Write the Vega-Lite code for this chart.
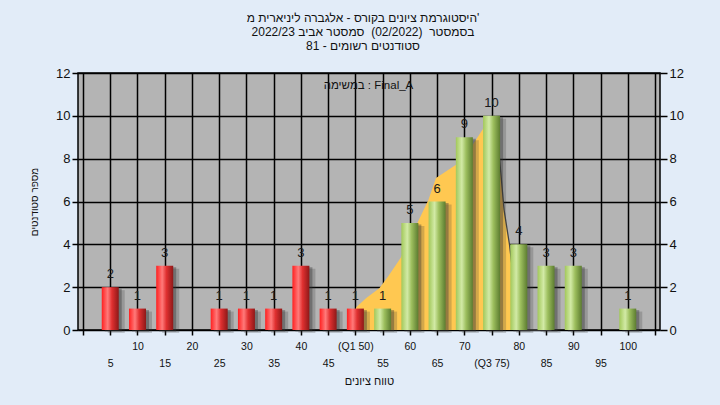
{
  "$schema": "https://vega.github.io/schema/vega-lite/v6.json",
  "width": 582,
  "height": 257,
  "autosize": "none",
  "padding": {"left": 78, "top": 73, "right": 60, "bottom": 75},
  "background": "#e2ecf8",
  "title": {
    "text": ["היסטוגרמת ציונים בקורס - אלגברה ליניארית מ'", "בסמסטר \u00a0(02/2022)\u00a0 סמסטר אביב 2022/23", "סטודנטים רשומים - 81"],
    "fontSize": 12,
    "font": "Liberation Sans",
    "fontWeight": "normal",
    "color": "#111111",
    "lineHeight": 14,
    "offset": 14,
    "anchor": "middle",
    "frame": "group",
    "dx": -6
  },
  "config": {
    "font": "Liberation Sans",
    "view": {"fill": "#b4b4b4", "stroke": "#000000", "strokeWidth": 1.5}
  },
  "datasets": {
    "bars": [
      {"g": 5, "c": 2}, {"g": 10, "c": 1}, {"g": 15, "c": 3}, {"g": 20, "c": 0},
      {"g": 25, "c": 1}, {"g": 30, "c": 1}, {"g": 35, "c": 1}, {"g": 40, "c": 3},
      {"g": 45, "c": 1}, {"g": 50, "c": 1}, {"g": 55, "c": 1}, {"g": 60, "c": 5},
      {"g": 65, "c": 6}, {"g": 70, "c": 9}, {"g": 75, "c": 10}, {"g": 80, "c": 4},
      {"g": 85, "c": 3}, {"g": 90, "c": 3}, {"g": 95, "c": 0}, {"g": 100, "c": 1}
    ],
    "curve": [
      {"g": 48.6, "v": 0}, {"g": 50.2, "v": 1.07}, {"g": 52, "v": 1.5}, {"g": 54.4, "v": 1.95},
      {"g": 56, "v": 2.5}, {"g": 58.3, "v": 3.36}, {"g": 61, "v": 4.8}, {"g": 63.4, "v": 6.07},
      {"g": 64.8, "v": 7.1}, {"g": 68.4, "v": 7.7}, {"g": 71.5, "v": 8.64}, {"g": 73.3, "v": 9.34},
      {"g": 75.5, "v": 10}, {"g": 76.5, "v": 7.9}, {"g": 77.3, "v": 5.6}, {"g": 78.3, "v": 3.97},
      {"g": 80.1, "v": 0}
    ],
    "edge": [
      {"g": 75.5, "v": 10}, {"g": 76.5, "v": 7.9}, {"g": 77.3, "v": 5.6}, {"g": 78.3, "v": 3.97},
      {"g": 80.1, "v": 0}, {"g": 86, "v": 0}
    ],
    "note": [{"g": 52.4, "v": 11.4, "t": "במשימה : Final_A"}]
  },
  "layer": [
    {
      "data": {"name": "curve"},
      "mark": {"type": "area", "color": "#ffc851", "opacity": 1},
      "encoding": {
        "x": {
          "field": "g", "type": "quantitative",
          "scale": {"domain": [0, 105], "nice": false, "zero": false},
          "axis": {
            "orient": "bottom",
            "values": [0, 5, 10, 15, 20, 25, 30, 35, 40, 45, 50, 55, 60, 65, 70, 75, 80, 85, 90, 95, 100, 105],
            "labelExpr": "datum.value % 10 == 0 && datum.value > 0 && datum.value <= 100 ? (datum.value == 50 ? '(Q1 50)' : datum.label) : ''",
            "labelOverlap": false,
            "labelFontSize": 10.5,
            "labelColor": "#111111",
            "labelPadding": 6,
            "tickSize": 5,
            "tickColor": "#000000",
            "tickWidth": 1.5,
            "domain": false,
            "grid": true,
            "gridColor": "#000000",
            "gridWidth": 1.5,
            "gridOpacity": 1,
            "title": null
          }
        },
        "y": {
          "field": "v", "type": "quantitative",
          "scale": {"domain": [0, 12], "nice": false},
          "axis": {
            "orient": "left",
            "values": [0, 2, 4, 6, 8, 10, 12],
            "grid": true,
            "gridColor": "#000000",
            "gridWidth": 1.5,
            "gridOpacity": 1,
            "tickSize": 6,
            "tickColor": "#000000",
            "tickWidth": 1.5,
            "domain": false,
            "labelFontSize": 13,
            "labelPadding": 2,
            "labelColor": "#111111",
            "title": "מספר סטודנטים",
            "titleFontSize": 10,
            "titleFontWeight": "normal",
            "titleColor": "#111111",
            "titlePadding": 16
          }
        }
      }
    },
    {
      "data": {"name": "edge"},
      "mark": {"type": "line", "color": "#444444", "strokeWidth": 1.3},
      "encoding": {
        "x": {"field": "g", "type": "quantitative", "axis": null},
        "y": {"field": "v", "type": "quantitative", "axis": null}
      }
    },
    {
      "data": {"name": "bars"},
      "transform": [{"filter": "datum.c > 0"}],
      "mark": {"type": "bar", "size": 17, "color": "#333333", "opacity": 0.22, "xOffset": 6, "yOffset": 3},
      "encoding": {
        "x": {"field": "g", "type": "quantitative", "axis": null},
        "y": {"field": "c", "type": "quantitative", "axis": null}
      }
    },
    {
      "data": {"name": "bars"},
      "transform": [{"filter": "datum.c > 0"}],
      "mark": {"type": "bar", "size": 17, "color": "#333333", "opacity": 0.38, "xOffset": 3, "yOffset": 1.5},
      "encoding": {
        "x": {"field": "g", "type": "quantitative", "axis": null},
        "y": {"field": "c", "type": "quantitative", "axis": null}
      }
    },
    {
      "data": {"name": "bars"},
      "transform": [{"filter": "datum.c > 0 && datum.g <= 50"}],
      "mark": {
        "type": "bar", "size": 17,
        "color": {
          "gradient": "linear", "x1": 0, "x2": 1, "y1": 0, "y2": 0,
          "stops": [
            {"offset": 0, "color": "#ff2020"},
            {"offset": 0.35, "color": "#ff7a7a"},
            {"offset": 0.6, "color": "#e03030"},
            {"offset": 1, "color": "#8e1818"}
          ]
        }
      },
      "encoding": {
        "x": {
          "field": "g", "type": "quantitative",
          "axis": {
            "orient": "bottom",
            "values": [5, 15, 25, 35, 45, 55, 65, 75, 85, 95],
            "labelExpr": "datum.value == 75 ? '(Q3 75)' : datum.label",
            "labelOverlap": false,
            "ticks": false,
            "domain": false,
            "grid": false,
            "labelFontSize": 10.5,
            "labelColor": "#111111",
            "labelPadding": 28,
            "title": "טווח ציונים",
            "titleFontSize": 11,
            "titleFontWeight": "normal",
            "titleColor": "#111111",
            "titlePadding": 7
          }
        },
        "y": {
          "field": "c", "type": "quantitative",
          "axis": {
            "orient": "right",
            "values": [0, 2, 4, 6, 8, 10, 12],
            "grid": false,
            "tickSize": 7,
            "tickColor": "#000000",
            "tickWidth": 1.5,
            "domain": false,
            "labelFontSize": 13,
            "labelPadding": 2,
            "labelColor": "#111111",
            "title": null
          }
        }
      }
    },
    {
      "data": {"name": "bars"},
      "transform": [{"filter": "datum.c > 0 && datum.g >= 55"}],
      "mark": {
        "type": "bar", "size": 17,
        "color": {
          "gradient": "linear", "x1": 0, "x2": 1, "y1": 0, "y2": 0,
          "stops": [
            {"offset": 0, "color": "#a2c85a"},
            {"offset": 0.35, "color": "#d2eaa6"},
            {"offset": 0.6, "color": "#9dbf5e"},
            {"offset": 1, "color": "#5c7c30"}
          ]
        }
      },
      "encoding": {
        "x": {"field": "g", "type": "quantitative", "axis": null},
        "y": {"field": "c", "type": "quantitative", "axis": null}
      }
    },
    {
      "data": {"name": "bars"},
      "transform": [{"filter": "datum.c > 0"}],
      "mark": {"type": "text", "baseline": "bottom", "dy": -6, "fontSize": 13, "color": "#1a1a1a"},
      "encoding": {
        "x": {"field": "g", "type": "quantitative", "axis": null},
        "y": {"field": "c", "type": "quantitative", "axis": null},
        "text": {"field": "c", "type": "quantitative"}
      }
    },
    {
      "data": {"name": "note"},
      "mark": {"type": "text", "baseline": "middle", "fontSize": 11.5, "color": "#111111"},
      "encoding": {
        "x": {"field": "g", "type": "quantitative", "axis": null},
        "y": {"field": "v", "type": "quantitative", "axis": null},
        "text": {"field": "t"}
      }
    }
  ],
  "resolve": {"axis": {"x": "independent", "y": "independent"}}
}
